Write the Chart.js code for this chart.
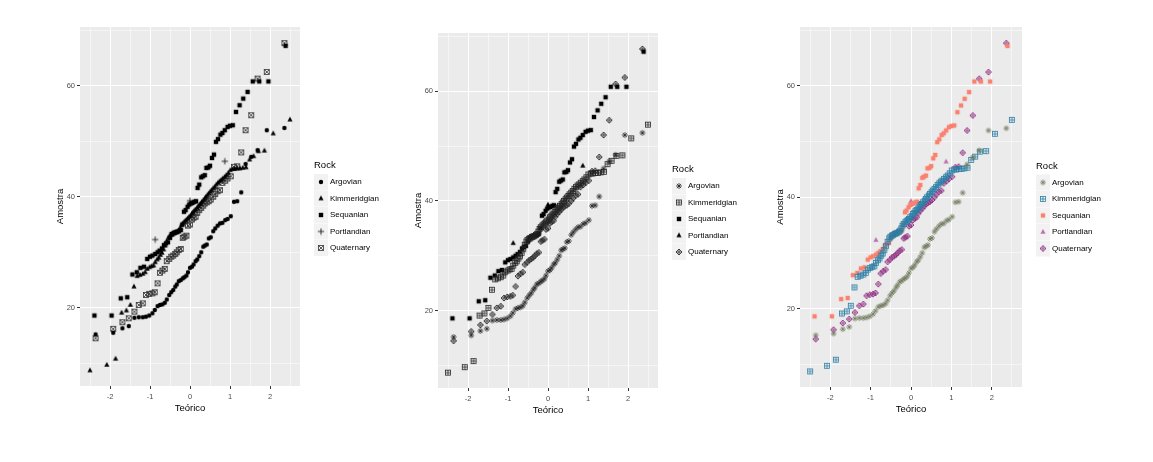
<!DOCTYPE html>
<html>
<head>
<meta charset="utf-8">
<script src="https://cdn.jsdelivr.net/npm/chart.js@4.4.1/dist/chart.umd.min.js"></script>
<style>
  html, body { margin: 0; padding: 0; background: #fff; }
  body { width: 1153px; height: 462px; position: relative; overflow: hidden; }
  canvas { position: absolute; top: 0; }
</style>
</head>
<body>
<canvas id="p1" width="380" height="462" style="left:0px"></canvas>
<canvas id="p2" width="380" height="462" style="left:380px"></canvas>
<canvas id="p3" width="393" height="462" style="left:760px"></canvas>
<script>
// valores (quantis teóricos x amostra, por grupo)
const rocks = ['Argovian', 'Kimmeridgian', 'Sequanian', 'Portlandian', 'Quaternary'];

const argovianX = [-2.36, -1.92, -1.69, -1.53, -1.39, -1.28, -1.18, -1.10, -1.02, -0.94, -0.88, -0.81, -0.75, -0.69,
  -0.63, -0.58, -0.52, -0.47, -0.42, -0.37, -0.33, -0.28, -0.23, -0.18, -0.14, -0.09, -0.05, 0, 0.05, 0.09, 0.14,
  0.18, 0.23, 0.28, 0.33, 0.37, 0.42, 0.47, 0.52, 0.58, 0.63, 0.69, 0.75, 0.81, 0.88, 0.94, 1.02, 1.10, 1.18, 1.28,
  1.39, 1.53, 1.69, 1.92, 2.36];
const argovianY = [15.2, 15.5, 16.3, 16.7, 18.2, 18.3, 18.3, 18.4, 18.6, 19.0, 19.6, 20.3, 20.5, 20.6, 20.9, 21.5,
  22.3, 22.8, 23.2, 23.8, 24.2, 24.8, 25.0, 25.3, 25.5, 25.8, 26.4, 27.2, 27.4, 27.8, 28.4, 28.7, 29.3, 30.0, 31.0,
  31.2, 31.4, 32.5, 32.7, 33.8, 34.3, 34.8, 35.2, 35.3, 35.8, 36.0, 36.5, 39.1, 39.2, 40.8, 45.9, 47.2, 48.4, 52.0, 52.4];

const kimmeridgianX = [-2.50, -2.08, -1.86, -1.71, -1.59, -1.49, -1.40, -1.32, -1.25, -1.18, -1.12, -1.07, -1.01,
  -0.96, -0.91, -0.87, -0.82, -0.78, -0.74, -0.70, -0.66, -0.62, -0.58, -0.54, -0.51, -0.47, -0.44, -0.40, -0.37,
  -0.34, -0.30, -0.27, -0.24, -0.21, -0.18, -0.14, -0.11, -0.08, -0.05, -0.02, 0.02, 0.05, 0.08, 0.11, 0.14, 0.18,
  0.21, 0.24, 0.27, 0.30, 0.34, 0.37, 0.40, 0.44, 0.47, 0.51, 0.54, 0.58, 0.62, 0.66, 0.70, 0.74, 0.78, 0.82, 0.87,
  0.91, 0.96, 1.01, 1.07, 1.12, 1.18, 1.25, 1.32, 1.40, 1.49, 1.59, 1.71, 1.86, 2.08, 2.50];
const kimmeridgianY = [8.7, 9.7, 10.8, 19.1, 19.5, 20.5, 23.8, 25.7, 25.9, 26.1, 26.4, 27.0, 27.3, 27.5, 27.6, 28.2,
  28.7, 29.0, 29.5, 29.9, 30.5, 31.2, 32.0, 32.6, 32.9, 33.1, 33.2, 33.4, 33.5, 33.6, 33.8, 34.0, 34.4, 34.9, 35.2,
  35.5, 35.7, 35.9, 36.1, 36.4, 36.6, 37.0, 37.2, 37.5, 37.7, 38.0, 38.3, 38.6, 38.8, 39.1, 39.4, 39.7, 40.0, 40.3,
  40.6, 40.9, 41.2, 41.5, 41.8, 42.2, 42.5, 42.8, 43.0, 43.3, 43.6, 43.9, 44.3, 44.8, 45.0, 45.0, 45.1, 45.1, 45.2,
  45.3, 46.7, 47.3, 48.2, 48.3, 51.4, 53.9];

const sequanianX = [-2.39, -1.96, -1.73, -1.57, -1.44, -1.33, -1.24, -1.15, -1.07, -1.00, -0.94, -0.87, -0.81, -0.76,
  -0.70, -0.65, -0.60, -0.55, -0.50, -0.46, -0.41, -0.37, -0.32, -0.28, -0.23, -0.19, -0.15, -0.11, -0.06, -0.02,
  0.02, 0.06, 0.11, 0.15, 0.19, 0.23, 0.28, 0.32, 0.37, 0.41, 0.46, 0.50, 0.55, 0.60, 0.65, 0.70, 0.76, 0.81, 0.87,
  0.94, 1.00, 1.07, 1.15, 1.24, 1.33, 1.44, 1.57, 1.73, 1.96, 2.39];
const sequanianY = [18.6, 18.6, 21.7, 21.9, 26.0, 26.4, 27.2, 27.4, 28.8, 29.2, 29.4, 29.7, 30.0, 30.3, 30.7, 31.3,
  31.6, 31.8, 32.6, 33.3, 33.5, 33.6, 33.7, 33.8, 34.0, 35.0, 37.3, 37.6, 38.2, 38.6, 38.8, 38.9, 39.1, 39.2, 41.6,
  42.2, 43.5, 43.7, 43.9, 45.2, 45.3, 45.6, 47.0, 47.6, 49.9, 50.4, 51.2, 51.5, 52.0, 52.6, 52.8, 52.9, 55.3, 56.5,
  57.7, 58.9, 60.8, 60.8, 60.8, 67.2];

const portlandianX = [-0.87, 0, 0.87];
const portlandianY = [32.3, 39.3, 46.4];

// mesmo tamanho de grupo que Argovian
const quaternaryX = argovianX;
const quaternaryY = [14.5, 16.2, 17.4, 18.1, 19.3, 20.5, 20.8, 22.3, 22.5, 22.6, 22.8, 24.4, 26.3, 26.7, 27.0, 28.4,
  28.8, 29.2, 29.4, 29.7, 30.0, 30.4, 30.6, 32.6, 32.8, 33.0, 34.8, 35.0, 35.9, 36.2, 36.4, 37.1, 37.6, 38.0, 38.4,
  38.8, 39.0, 39.2, 39.5, 40.0, 40.5, 41.0, 41.2, 42.5, 42.9, 43.3, 43.7, 45.4, 45.5, 48.0, 52.0, 54.7, 61.3, 62.5, 67.7];

const seriesX = [argovianX, kimmeridgianX, sequanianX, portlandianX, quaternaryX];
const seriesY = [argovianY, kimmeridgianY, sequanianY, portlandianY, quaternaryY];

const xTicks = [-2.5, -2, -1.5, -1, -0.5, 0, 0.5, 1, 1.5, 2, 2.5];
const yTicks = [10, 20, 30, 40, 50, 60, 70];
const xLabels = [-2, -1, 0, 1, 2];
const yLabels = [20, 40, 60];

const FONT = '"Liberation Sans", Arial, sans-serif';

// desenha um símbolo tipo ggplot num canvas pequeno
function glyph(shape, color) {
  const c = document.createElement('canvas');
  c.width = 8; c.height = 8;
  const g = c.getContext('2d');
  g.translate(4, 4);
  g.fillStyle = color;
  g.strokeStyle = color;
  g.lineWidth = 0.8;
  const line = (x1, y1, x2, y2) => { g.beginPath(); g.moveTo(x1, y1); g.lineTo(x2, y2); g.stroke(); };
  switch (shape) {
    case 'circle':
      g.beginPath(); g.arc(0, 0, 2.2, 0, Math.PI * 2); g.fill(); break;
    case 'square':
      g.fillRect(-2.2, -2.2, 4.4, 4.4); break;
    case 'triangle':
      g.beginPath(); g.moveTo(0, -2.9); g.lineTo(2.6, 1.8); g.lineTo(-2.6, 1.8); g.closePath(); g.fill(); break;
    case 'plus':
      line(-3.2, 0, 3.2, 0); line(0, -3.2, 0, 3.2); break;
    case 'squareX':
      g.strokeRect(-2.4, -2.4, 4.8, 4.8); line(-2.4, -2.4, 2.4, 2.4); line(-2.4, 2.4, 2.4, -2.4); break;
    case 'squarePlus':
      g.strokeRect(-2.4, -2.4, 4.8, 4.8); line(-2.4, 0, 2.4, 0); line(0, -2.4, 0, 2.4); break;
    case 'asterisk':
      line(-3, 0, 3, 0); line(0, -3, 0, 3); line(-2.1, -2.1, 2.1, 2.1); line(-2.1, 2.1, 2.1, -2.1); break;
    case 'diamondPlus':
      g.beginPath(); g.moveTo(0, -3); g.lineTo(3, 0); g.lineTo(0, 3); g.lineTo(-3, 0); g.closePath(); g.stroke();
      line(-3, 0, 3, 0); line(0, -3, 0, 3); break;
  }
  return c;
}

const panels = [
  { id: 'p1', padding: { left: 50, top: 27, right: 80, bottom: 46 },
    shapes: ['circle', 'triangle', 'square', 'plus', 'squareX'],
    colors: ['#000', '#000', '#000', '#000', '#333'] },
  { id: 'p2', padding: { left: 28, top: 33, right: 102, bottom: 44 },
    shapes: ['asterisk', 'squarePlus', 'square', 'triangle', 'diamondPlus'],
    colors: ['#222', '#222', '#000', '#000', '#222'] },
  { id: 'p3', padding: { left: 10, top: 27, right: 131, bottom: 45 },
    shapes: ['asterisk', 'squarePlus', 'square', 'triangle', 'diamondPlus'],
    colors: ['#6f7a5c', '#2b7ea4', '#fa8070', '#c070ad', '#8e2a7e'] }
];

const painelFundo = {
  id: 'painelFundo',
  beforeDraw(chart) {
    const { ctx, chartArea: a } = chart;
    ctx.save();
    ctx.fillStyle = '#EBEBEB';
    ctx.fillRect(a.left, a.top, a.right - a.left, a.bottom - a.top);
    ctx.restore();
  }
};

const extras = {
  id: 'extras',
  afterDraw(chart, args, opts) {
    const { ctx, chartArea: a } = chart;
    ctx.save();
    ctx.fillStyle = '#000';
    ctx.textAlign = 'center';
    ctx.textBaseline = 'middle';
    ctx.font = '9.5px ' + FONT;
    ctx.fillText('Teórico', (a.left + a.right) / 2, a.bottom + 22);
    ctx.save();
    ctx.translate(a.left - 20, (a.top + a.bottom) / 2);
    ctx.rotate(-Math.PI / 2);
    ctx.fillText('Amostra', 0, 0);
    ctx.restore();

    // legenda
    const lx = a.right + 14;
    const ty = (a.top + a.bottom) / 2 - 41;
    ctx.textAlign = 'left';
    ctx.font = '9.5px ' + FONT;
    ctx.fillText('Rock', lx, ty);
    ctx.font = '8px ' + FONT;
    rocks.forEach((r, i) => {
      const cy = ty + 16.5 * (i + 1);
      ctx.fillStyle = '#F2F2F2';
      ctx.fillRect(lx, cy - 8, 14, 16);
      const gl = opts.glyphs[i];
      ctx.drawImage(gl, lx + 7 - gl.width / 2, cy - gl.height / 2);
      ctx.fillStyle = '#000';
      ctx.fillText(r, lx + 16, cy);
    });
    ctx.restore();
  }
};

function axis(ticksList, labels, min, max, isX) {
  return {
    type: 'linear',
    min: min,
    max: max,
    afterBuildTicks: s => { s.ticks = ticksList.map(v => ({ value: v })); },
    afterFit: s => { if (isX) s.height = 30; else s.width = 30; },
    border: { display: false },
    grid: {
      color: '#FFFFFF',
      lineWidth: c => (c.tick && labels.includes(c.tick.value)) ? 1 : 0.5,
      tickLength: 3,
      tickColor: c => (c.tick && labels.includes(c.tick.value)) ? '#333333' : 'rgba(0,0,0,0)'
    },
    ticks: {
      autoSkip: false,
      maxRotation: 0,
      padding: isX ? 3 : 2,
      color: '#4D4D4D',
      font: { family: FONT, size: 7.5 },
      callback: v => labels.includes(v) ? String(v) : ''
    }
  };
}

panels.forEach(p => {
  const glyphs = p.shapes.map((s, i) => glyph(s, p.colors[i]));
  const datasets = rocks.map((r, i) => ({
    label: r,
    data: seriesX[i].map((x, j) => ({ x: x, y: seriesY[i][j] })),
    pointStyle: glyphs[i],
    pointRadius: 3,
    showLine: false
  }));

  new Chart(document.getElementById(p.id), {
    type: 'scatter',
    data: { datasets: datasets },
    options: {
      responsive: false,
      animation: false,
      devicePixelRatio: 1,
      layout: { padding: p.padding },
      plugins: {
        legend: { display: false },
        tooltip: { enabled: false },
        extras: { glyphs: glyphs }
      },
      scales: {
        x: axis(xTicks, xLabels, -2.75, 2.75, true),
        y: axis(yTicks, yLabels, 5.9, 70.6, false)
      }
    },
    plugins: [painelFundo, extras]
  });
});
</script>
</body>
</html>
